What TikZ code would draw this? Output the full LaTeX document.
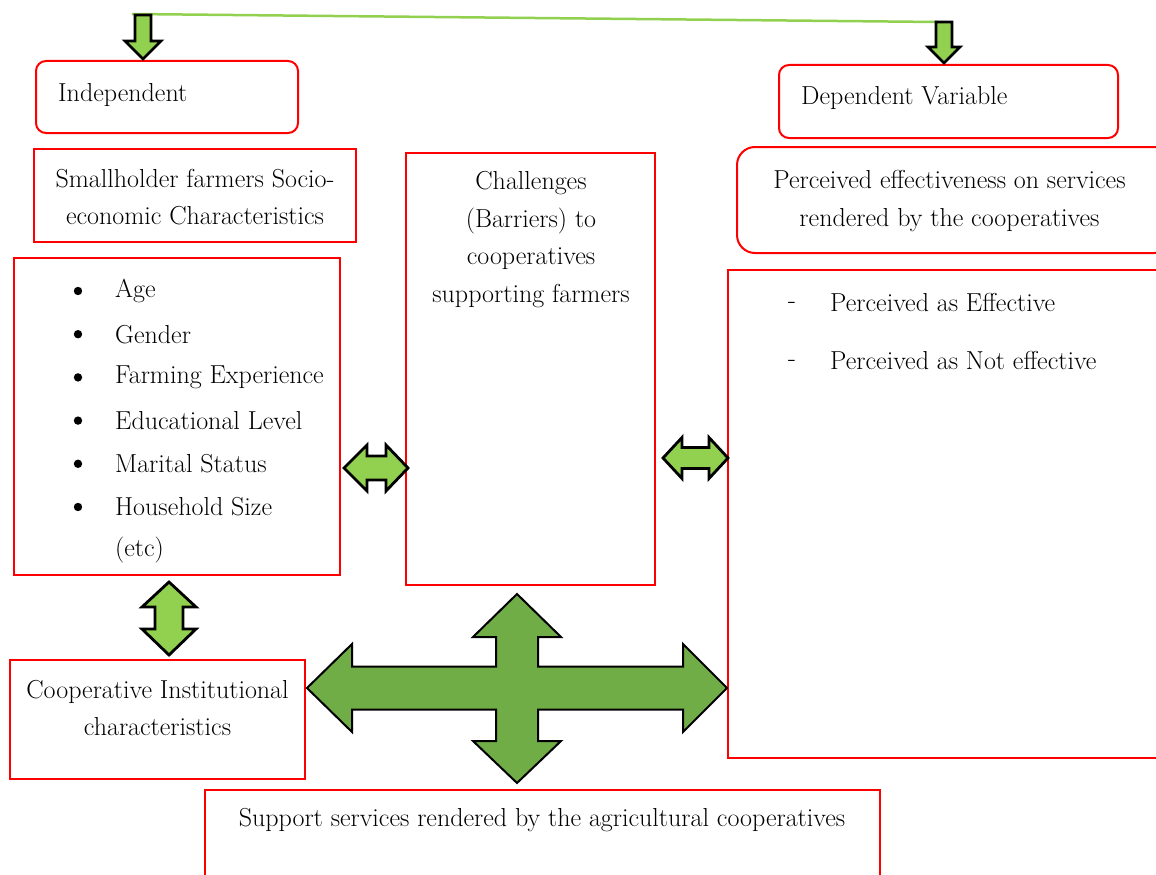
\documentclass[tikz,border=0pt]{standalone}
\usepackage{tikz}
\definecolor{redb}{RGB}{255,0,0}
\definecolor{lgreen}{RGB}{146,208,80}
\definecolor{dgreen}{RGB}{112,173,71}
\tikzset{
  box/.style={draw=redb, line width=2pt, inner sep=0pt},
  rbox/.style={box, rounded corners=10pt},
  lbl/.style={font=\fontsize{26}{37.5}\selectfont, inner sep=0pt, align=center},
  blockarrow/.style={draw=black, line width=2.8pt, fill=lgreen, line join=miter},
  bigarrow/.style={draw=black, line width=2pt, fill=dgreen, line join=miter},
  topline/.style={draw=lgreen, line width=2.5pt},
}
\begin{document}
\begin{tikzpicture}[x=1pt,y=-1pt]
\useasboundingbox (0,0) rectangle (1156,875);
\clip (0,0) rectangle (1156,875);
\fill[white] (0,0) rectangle (1156,875);

% boxes
\node[rbox, minimum width=262pt, minimum height=72pt] (ind) at (167,97) {};
\node[box, minimum width=322pt, minimum height=93pt] (smh) at (195,195.5) {};
\node[box, minimum width=326pt, minimum height=317pt] (bul) at (177,416.5) {};
\node[box, minimum width=249pt, minimum height=432pt] (chal) at (530.5,369) {};
\node[rbox, minimum width=339pt, minimum height=73pt] (dep) at (948.5,101.5) {};
\node[box, rounded corners=18pt, minimum width=435pt, minimum height=106pt] (peff) at (954.5,200) {};
\node[box, minimum width=452pt, minimum height=488pt] (plist) at (954,514) {};
\node[box, minimum width=295pt, minimum height=119pt] (coop) at (157.5,719.5) {};
\node[box, minimum width=675pt, minimum height=110pt] (supp) at (542.5,845) {};

% texts
\node[lbl, anchor=west] (tind) at (58,95) {Independent};
\node[lbl] (tsmh) at (195,197) {Smallholder farmers Socio-\\economic Characteristics};
\node[lbl] (tchal) at (531,239.5) {Challenges\\(Barriers) to\\cooperatives\\supporting farmers};
\node[lbl, anchor=west] (tdep) at (801,98) {Dependent Variable};
\node[lbl] (tpeff) at (949.5,201) {Perceived effectiveness on services\\rendered by the cooperatives};
\node[lbl] (dash1) at (792,305) {-};
\node[lbl, anchor=west] (tp1) at (830,302) {Perceived as Effective};
\node[lbl] (dash2) at (792,363) {-};
\node[lbl, anchor=west] (tp2) at (830,360) {Perceived as Not effective};
\node[lbl] (tcoop) at (157.5,708) {Cooperative Institutional\\characteristics};
\node[lbl] (tsupp) at (542,820) {Support services rendered by the agricultural cooperatives};

% bullet list
\foreach \t [count=\i from 0] in {Age,Gender,Farming Experience,Educational Level,Marital Status,Household Size}{
  \fill (78,{291+43.2*\i}) circle (4.2pt);
  \node[lbl, anchor=west] (b\i) at (115,{291+43.2*\i}) {\t};
}
\node[lbl, anchor=west] (betc) at (115,550) {(etc)};

% top connector line
\coordinate (lt) at (132,14);
\coordinate (rt) at (938,22);
\draw[topline] (lt) -- (rt);

% down arrows
\draw[blockarrow] (135,15) -- (151,15) -- (151,41) -- (161,41) -- (143,59) -- (125,41) -- (135,41) -- cycle;
\draw[blockarrow] (936,22) -- (952,22) -- (952,47) -- (960,47) -- (944,63) -- (928,47) -- (936,47) -- cycle;

% horizontal double arrows
\draw[blockarrow] (344,468) -- (367,445) -- (367,456) -- (386,456) -- (386,445) -- (408,468)
   -- (386,491) -- (386,480) -- (367,480) -- (367,491) -- cycle;
\draw[blockarrow] (663,458) -- (682,437.5) -- (682,447.5) -- (709,447.5) -- (709,437.5) -- (728,458)
   -- (709,478.5) -- (709,468.5) -- (682,468.5) -- (682,478.5) -- cycle;

% vertical double arrow
\draw[blockarrow] (169,582) -- (196,607) -- (183,607) -- (183,629) -- (196,629) -- (169,655)
   -- (142,629) -- (155,629) -- (155,607) -- (142,607) -- cycle;

% big four-way arrow
\draw[bigarrow] (307,688) -- (352,644) -- (352,666.5) -- (496,666.5) -- (496,637) -- (473,637)
  -- (517,594) -- (561,637) -- (538,637) -- (538,666.5) -- (683,666.5) -- (683,644)
  -- (727,688) -- (683,732) -- (683,709.5) -- (538,709.5) -- (538,741) -- (561,741)
  -- (517,783) -- (473,741) -- (496,741) -- (496,709.5) -- (352,709.5) -- (352,732) -- cycle;
\end{tikzpicture}
\end{document}
